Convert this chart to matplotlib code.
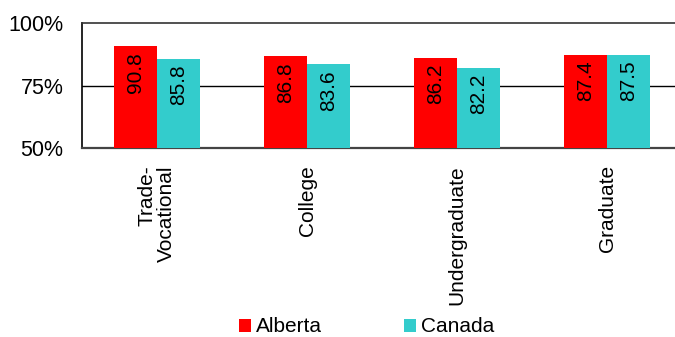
import matplotlib
matplotlib.use("Agg")
import matplotlib.pyplot as plt
import numpy as np
from matplotlib.patches import Patch

categories = ["Trade-\nVocational", "College", "Undergraduate", "Graduate"]
alberta = [90.8, 86.8, 86.2, 87.4]
canada = [85.8, 83.6, 82.2, 87.5]
series_names = ["Alberta", "Canada"]
colors = ["#FF0000", "#33CCCC"]

plt.rcParams['font.family'] = ['Liberation Sans', 'DejaVu Sans']
FS = 15

fig = plt.figure(figsize=(6.75, 3.37), dpi=100)
W, H = 675, 337
ax = fig.add_axes([82 / W, 1 - 148.5 / H, 600 / W, 125 / H])

x = np.arange(len(categories))
bw = 0.287
b1 = ax.bar(x - bw / 2, [v - 50 for v in alberta], bw, bottom=50, color=colors[0], zorder=3)
b2 = ax.bar(x + bw / 2, [v - 50 for v in canada], bw, bottom=50, color=colors[1], zorder=3)

for bars, vals in ((b1, alberta), (b2, canada)):
    for rect, v in zip(bars, vals):
        ax.annotate(f"{v:.1f}", (rect.get_x() + rect.get_width() / 2, v),
                    xytext=(0, -4), textcoords="offset points",
                    rotation=90, ha="center", va="top", fontsize=FS, color="black", zorder=4)

ax.set_xlim(-0.5, 3.5)
ax.set_ylim(50, 100)
ax.set_yticks([50, 75, 100])
ax.set_yticklabels(["50%", "75%", "100%"], fontsize=15.5)
ax.axhline(75, color="black", lw=1, zorder=1)

ax.set_xticks(x)
ax.set_xticklabels(categories, rotation=90, fontsize=FS, va="top", ha="center",
                   multialignment="right", linespacing=1.05)
ax.tick_params(axis="both", length=0)
ax.tick_params(axis="y", pad=13.5)
ax.tick_params(axis="x", pad=12)

ax.spines["top"].set_color("#333333")
ax.spines["top"].set_linewidth(1.2)
ax.spines["bottom"].set_color("#444444")
ax.spines["bottom"].set_linewidth(1.6)
ax.spines["left"].set_color("black")
ax.spines["left"].set_linewidth(1.2)
ax.spines["right"].set_visible(False)

handles = [Patch(facecolor=c, edgecolor="none") for c in colors]
fig.legend(handles, series_names, loc="center", bbox_to_anchor=(366.5 / W, 1 - 327 / H),
           ncol=2, frameon=False, fontsize=FS, handlelength=0.58, handleheight=0.58,
           handletextpad=0.24, columnspacing=3.9, borderpad=0, borderaxespad=0)

fig.savefig("out.png", dpi=100)
